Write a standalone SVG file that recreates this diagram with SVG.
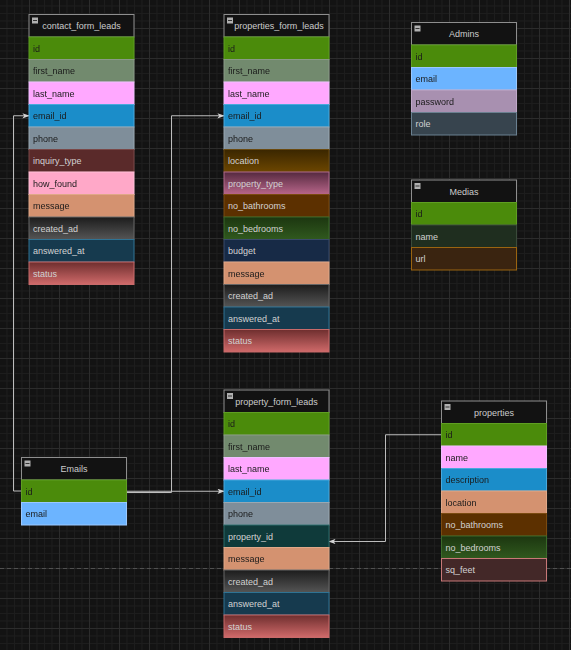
<svg xmlns="http://www.w3.org/2000/svg" width="571" height="650" viewBox="0 0 571 650">
<defs>
<pattern id="grid" x="29" y="28" width="30" height="30" patternUnits="userSpaceOnUse">
<path d="M8 0V30M15.5 0V30M23 0V30M0 8H30M0 15.5H30M0 23H30" stroke="#1d1d1d" stroke-width="1" fill="none"/>
<path d="M0.5 0V30M0 0.5H30" stroke="#2c2c2c" stroke-width="1" fill="none"/>
</pattern>
<filter id="dk" x="-10%" y="-30%" width="120%" height="160%" color-interpolation-filters="sRGB">
<feColorMatrix type="matrix" values="0 0 0 0 0.1 0 0 0 0 0.1 0 0 0 0 0.1 0 0 0 1 0"/>
</filter>
<linearGradient id="gCreated" x1="0" y1="0" x2="0" y2="1"><stop offset="0" stop-color="#1c1c1c"/><stop offset="1" stop-color="#555555"/></linearGradient>
<linearGradient id="gStatus" x1="0" y1="0" x2="0" y2="1"><stop offset="0" stop-color="#6e2e2e"/><stop offset="1" stop-color="#d06a6a"/></linearGradient>
<linearGradient id="gLoc" x1="0" y1="0" x2="0" y2="1"><stop offset="0" stop-color="#3a2600"/><stop offset="1" stop-color="#6c4600"/></linearGradient>
<linearGradient id="gPType" x1="0" y1="0" x2="0" y2="1"><stop offset="0" stop-color="#55293f"/><stop offset="1" stop-color="#b8668a"/></linearGradient>
<linearGradient id="gBed" x1="0" y1="0" x2="0" y2="1"><stop offset="0" stop-color="#1c3610"/><stop offset="1" stop-color="#30591e"/></linearGradient>
<marker id="arr" viewBox="0 0 8 6" refX="7.5" refY="3" markerWidth="7" markerHeight="5.5" markerUnits="userSpaceOnUse" orient="auto">
<path d="M0 0L8 3L0 6L2 3Z" fill="#d4d4d4"/>
</marker>
</defs>
<style>
text{font-family:"Liberation Sans",Arial,sans-serif;font-size:9px}
.tk{fill:#1a1a1a;filter:url(#dk)}
.tw{fill:#d2d2d2}
.th{fill:#cccccc;text-anchor:middle}
.hd{fill:#121212;stroke:#8e8e8e;stroke-width:1}
.ic{fill:#b0b0b0}
.icl{stroke:#333;stroke-width:1}
rect{stroke-width:1}
.id{fill:#4b8b0b;stroke:#5f9f22}
.fn{fill:#728a6e;stroke:#8a9a88}
.ln{fill:#ffa8ff;stroke:#f0c0ff}
.em{fill:#1b8dc9;stroke:#4aa8dc}
.ph{fill:#7f8e9a;stroke:#9aa8b2}
.iq{fill:#5a2a2a;stroke:#7a4848}
.hf{fill:#ffa8c8;stroke:#ffc0d8}
.ms{fill:#d49270;stroke:#e0a888}
.cr{fill:url(#gCreated);stroke:#666666}
.an{fill:#163a4e;stroke:#2f7394}
.st{fill:url(#gStatus);stroke:#c86a6a}
.lo{fill:url(#gLoc);stroke:#6a4a10}
.pt{fill:url(#gPType);stroke:#b06a8c}
.ba{fill:#5c3000;stroke:#7a4a10}
.be{fill:url(#gBed);stroke:#3a6a2a}
.bu{fill:#172a46;stroke:#3a4a6a}
.eb{fill:#6cb4ff;stroke:#9ac8ff}
.pw{fill:#a890b0;stroke:#c0a8c8}
.ro{fill:#37444e;stroke:#6a8090}
.mn{fill:#1f2e1f;stroke:#3a4a3a}
.ur{fill:#3a2410;stroke:#9a6410}
.pi{fill:#0f3a3a;stroke:#2a6a6a}
.sq{fill:#432828;stroke:#c87878}
.edge{fill:none;stroke:#bdbdbd;stroke-width:1}
</style>
<rect width="571" height="650" fill="#131313"/>
<rect width="571" height="650" fill="url(#grid)"/>
<path d="M0 568.5H571" stroke="#505050" stroke-width="1" stroke-dasharray="4 3" fill="none"/>

<g id="connectors">
<path class="edge" d="M21.5 491H13.5V115.75H29" marker-end="url(#arr)"/>
<path class="edge" d="M126.5 492.5H171.5V115.75H224" marker-end="url(#arr)"/>
<path class="edge" d="M126.5 491.25H224" marker-end="url(#arr)"/>
<path class="edge" d="M441.5 434.75H385.5V541.5H329" marker-end="url(#arr)"/>
</g>

<g id="contact_form_leads" transform="translate(29 14.5)">
<rect class="hd" x="0" y="0" width="105" height="22.5"/><rect class="ic" x="3" y="3" width="6" height="6"/><path class="icl" d="M4 6H8"/><text class="th" x="52.5" y="14.5">contact_form_leads</text>
<rect class="id" x="0" y="22.5" width="105" height="22.5"/><text class="tk" x="4" y="37">id</text>
<rect class="fn" x="0" y="45" width="105" height="22.5"/><text class="tk" x="4" y="59.5">first_name</text>
<rect class="ln" x="0" y="67.5" width="105" height="22.5"/><text class="tk" x="4" y="82">last_name</text>
<rect class="em" x="0" y="90" width="105" height="22.5"/><text class="tk" x="4" y="104.5">email_id</text>
<rect class="ph" x="0" y="112.5" width="105" height="22.5"/><text class="tk" x="4" y="127">phone</text>
<rect class="iq" x="0" y="135" width="105" height="22.5"/><text class="tw" x="4" y="149.5">inquiry_type</text>
<rect class="hf" x="0" y="157.5" width="105" height="22.5"/><text class="tk" x="4" y="172">how_found</text>
<rect class="ms" x="0" y="180" width="105" height="22.5"/><text class="tk" x="4" y="194.5">message</text>
<rect class="cr" x="0" y="202.5" width="105" height="22.5"/><text class="tw" x="4" y="217">created_ad</text>
<rect class="an" x="0" y="225" width="105" height="22.5"/><text class="tw" x="4" y="239.5">answered_at</text>
<rect class="st" x="0" y="247.5" width="105" height="22.5"/><text class="tw" x="4" y="262">status</text>
</g>

<g id="properties_form_leads" transform="translate(224 14.5)">
<rect class="hd" x="0" y="0" width="105" height="22.5"/><rect class="ic" x="3" y="3" width="6" height="6"/><path class="icl" d="M4 6H8"/><text class="th" x="55" y="14.5">properties_form_leads</text>
<rect class="id" x="0" y="22.5" width="105" height="22.5"/><text class="tk" x="4" y="37">id</text>
<rect class="fn" x="0" y="45" width="105" height="22.5"/><text class="tk" x="4" y="59.5">first_name</text>
<rect class="ln" x="0" y="67.5" width="105" height="22.5"/><text class="tk" x="4" y="82">last_name</text>
<rect class="em" x="0" y="90" width="105" height="22.5"/><text class="tk" x="4" y="104.5">email_id</text>
<rect class="ph" x="0" y="112.5" width="105" height="22.5"/><text class="tk" x="4" y="127">phone</text>
<rect class="lo" x="0" y="135" width="105" height="22.5"/><text class="tw" x="4" y="149.5">location</text>
<rect class="pt" x="0" y="157.5" width="105" height="22.5"/><text class="tw" x="4" y="172">property_type</text>
<rect class="ba" x="0" y="180" width="105" height="22.5"/><text class="tw" x="4" y="194.5">no_bathrooms</text>
<rect class="be" x="0" y="202.5" width="105" height="22.5"/><text class="tw" x="4" y="217">no_bedrooms</text>
<rect class="bu" x="0" y="225" width="105" height="22.5"/><text class="tw" x="4" y="239.5">budget</text>
<rect class="ms" x="0" y="247.5" width="105" height="22.5"/><text class="tk" x="4" y="262">message</text>
<rect class="cr" x="0" y="270" width="105" height="22.5"/><text class="tw" x="4" y="284.5">created_ad</text>
<rect class="an" x="0" y="292.5" width="105" height="22.5"/><text class="tw" x="4" y="307">answered_at</text>
<rect class="st" x="0" y="315" width="105" height="22.5"/><text class="tw" x="4" y="329.5">status</text>
</g>

<g id="Admins" transform="translate(411.5 22.5)">
<rect class="hd" x="0" y="0" width="105" height="22.5"/><rect class="ic" x="3" y="3" width="6" height="6"/><path class="icl" d="M4 6H8"/><text class="th" x="52.5" y="14.5">Admins</text>
<rect class="id" x="0" y="22.5" width="105" height="22.5"/><text class="tk" x="4" y="37">id</text>
<rect class="eb" x="0" y="45" width="105" height="22.5"/><text class="tk" x="4" y="59.5">email</text>
<rect class="pw" x="0" y="67.5" width="105" height="22.5"/><text class="tk" x="4" y="82">password</text>
<rect class="ro" x="0" y="90" width="105" height="22.5"/><text class="tw" x="4" y="104.5">role</text>
</g>

<g id="Medias" transform="translate(411.5 180)">
<rect class="hd" x="0" y="0" width="105" height="22.5"/><rect class="ic" x="3" y="3" width="6" height="6"/><path class="icl" d="M4 6H8"/><text class="th" x="52.5" y="14.5">Medias</text>
<rect class="id" x="0" y="22.5" width="105" height="22.5"/><text class="tk" x="4" y="37">id</text>
<rect class="mn" x="0" y="45" width="105" height="22.5"/><text class="tw" x="4" y="59.5">name</text>
<rect class="ur" x="0" y="67.5" width="105" height="22.5"/><text class="tw" x="4" y="82">url</text>
</g>

<g id="Emails" transform="translate(21.5 457.5)">
<rect class="hd" x="0" y="0" width="105" height="22.5"/><rect class="ic" x="3" y="3" width="6" height="6"/><path class="icl" d="M4 6H8"/><text class="th" x="52.5" y="14.5">Emails</text>
<rect class="id" x="0" y="22.5" width="105" height="22.5"/><text class="tk" x="4" y="37">id</text>
<rect class="eb" x="0" y="45" width="105" height="22.5"/><text class="tk" x="4" y="59.5">email</text>
</g>

<g id="property_form_leads" transform="translate(224 390)">
<rect class="hd" x="0" y="0" width="105" height="22.5"/><rect class="ic" x="3" y="3" width="6" height="6"/><path class="icl" d="M4 6H8"/><text class="th" x="52.5" y="14.5">property_form_leads</text>
<rect class="id" x="0" y="22.5" width="105" height="22.5"/><text class="tk" x="4" y="37">id</text>
<rect class="fn" x="0" y="45" width="105" height="22.5"/><text class="tk" x="4" y="59.5">first_name</text>
<rect class="ln" x="0" y="67.5" width="105" height="22.5"/><text class="tk" x="4" y="82">last_name</text>
<rect class="em" x="0" y="90" width="105" height="22.5"/><text class="tk" x="4" y="104.5">email_id</text>
<rect class="ph" x="0" y="112.5" width="105" height="22.5"/><text class="tk" x="4" y="127">phone</text>
<rect class="pi" x="0" y="135" width="105" height="22.5"/><text class="tw" x="4" y="149.5">property_id</text>
<rect class="ms" x="0" y="157.5" width="105" height="22.5"/><text class="tk" x="4" y="172">message</text>
<rect class="cr" x="0" y="180" width="105" height="22.5"/><text class="tw" x="4" y="194.5">created_ad</text>
<rect class="an" x="0" y="202.5" width="105" height="22.5"/><text class="tw" x="4" y="217">answered_at</text>
<rect class="st" x="0" y="225" width="105" height="22.5"/><text class="tw" x="4" y="239.5">status</text>
</g>

<g id="properties" transform="translate(441.5 401)">
<rect class="hd" x="0" y="0" width="105" height="22.5"/><rect class="ic" x="3" y="3" width="6" height="6"/><path class="icl" d="M4 6H8"/><text class="th" x="52.5" y="14.5">properties</text>
<rect class="id" x="0" y="22.5" width="105" height="22.5"/><text class="tk" x="4" y="37">id</text>
<rect class="ln" x="0" y="45" width="105" height="22.5"/><text class="tk" x="4" y="59.5">name</text>
<rect class="em" x="0" y="67.5" width="105" height="22.5"/><text class="tk" x="4" y="82">description</text>
<rect class="ms" x="0" y="90" width="105" height="22.5"/><text class="tk" x="4" y="104.5">location</text>
<rect class="ba" x="0" y="112.5" width="105" height="22.5"/><text class="tw" x="4" y="127">no_bathrooms</text>
<rect class="be" x="0" y="135" width="105" height="22.5"/><text class="tw" x="4" y="149.5">no_bedrooms</text>
<rect class="sq" x="0" y="157.5" width="105" height="22.5"/><text class="tw" x="4" y="172">sq_feet</text>
</g>
</svg>
